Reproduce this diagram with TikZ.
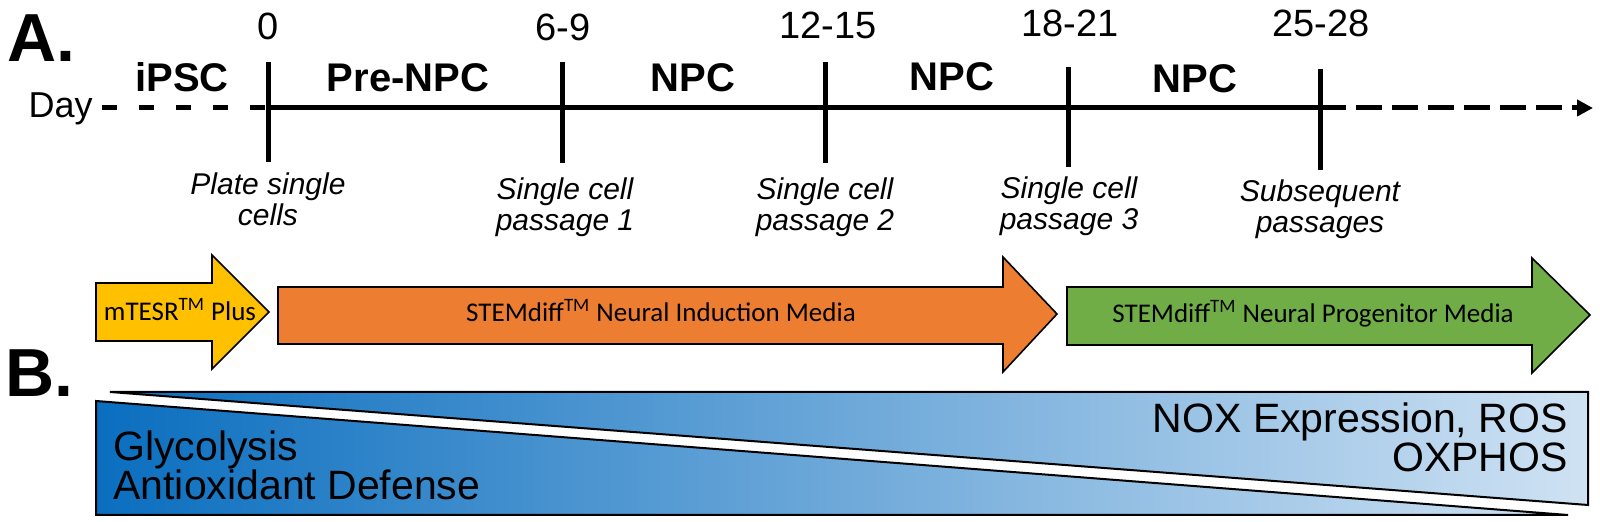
\documentclass[tikz,border=0pt]{standalone}
\usepackage{fontspec}
\setmainfont{Liberation Sans}
\newfontfamily\calfont{Carlito}
\usetikzlibrary{arrows.meta}

\definecolor{mtyellow}{HTML}{FFC000}
\definecolor{ndorange}{HTML}{ED7D31}
\definecolor{npgreen}{HTML}{70AD47}
\definecolor{bdark}{HTML}{0A6EBF}
\definecolor{blight}{HTML}{CFE2F3}

\begin{document}
\begin{tikzpicture}[x=0.5pt,y=-0.5pt,
  >={Triangle[length=8pt,width=8pt]},
  axis/.style={line width=2.5pt},
  tickline/.style={line width=2.5pt},
  daynum/.style={anchor=base,inner sep=0pt,font=\fontsize{19}{19}\selectfont},
  phase/.style={anchor=base,inner sep=0pt,font=\fontsize{20}{20}\selectfont\bfseries},
  event/.style={anchor=north,inner sep=0pt,align=center,font=\fontsize{15}{15.5}\selectfont\itshape},
  media/.style={draw=black,line width=0.8pt,line join=miter},
  medtext/.style={anchor=base,inner sep=0pt,font=\calfont\fontsize{13.5}{13.5}\selectfont},
  panel/.style={anchor=base west,inner sep=0pt,font=\fontsize{34}{34}\selectfont\bfseries},
  trend/.style={inner sep=0pt,font=\fontsize{20.5}{19.5}\selectfont},
  wedge/.style={draw=black,line width=1pt,line join=miter}]
  \useasboundingbox (0,0) rectangle (1600,522);

  % A. timeline
  \node[panel] (panA) at (7,62) {A.};
  \node[anchor=base east,inner sep=0pt,font=\fontsize{18}{18}\selectfont] (day) at (93,118) {Day};
  \coordinate (start) at (102,108);
  \coordinate (d0) at (268,108);
  \coordinate (d1) at (562,108);
  \coordinate (d2) at (825,108);
  \coordinate (d3) at (1068,108);
  \coordinate (d4) at (1320,108);
  \coordinate (tip) at (1593,108);
  \draw[axis,dash pattern=on 7.5pt off 11pt] (start) -- (d0);
  \draw[axis] (d0) -- (d4);
  \draw[axis,->,dash pattern=on 13pt off 5pt] (d4) -- (tip);
  \foreach \n/\x/\a/\b in {0/268/62/162,1/562/62/163,2/825/62/163,3/1068/67/167,4/1320/69/170} {
    \coordinate (top\n) at (\x,\a);
    \coordinate (bot\n) at (\x,\b);
    \draw[tickline] (top\n) -- (bot\n);
  }

  \node[daynum] (n0) at (268,40) {0};
  \node[daynum] (n1) at (563,41) {6-9};
  \node[daynum] (n2) at (828,39) {12-15};
  \node[daynum] (n3) at (1070,37) {18-21};
  \node[daynum] (n4) at (1321,37) {25-28};

  \node[phase] (ipsc) at (182,92) {iPSC};
  \node[phase] (prenpc) at (408,92) {Pre-NPC};
  \node[phase] (npca) at (693,92) {NPC};
  \node[phase] (npcb) at (952,91) {NPC};
  \node[phase] (npcc) at (1195,93) {NPC};

  \node[event] (plate) at (268,172) {Plate single\\cells};
  \node[event] (pass1) at (565,177) {Single cell\\passage 1};
  \node[event] (pass2) at (825,177) {Single cell\\passage 2};
  \node[event] (pass3) at (1069,176) {Single cell\\passage 3};
  \node[event] (subseq) at (1320,179) {Subsequent\\passages};

  % media arrows
  \fill[mtyellow] (96,283) -- (212,283) -- (212,255) -- (269,312) -- (212,369) -- (212,341) -- (96,341) -- cycle;
  \draw[media] (96,283) -- (212,283) -- (212,255) -- (269,312) -- (212,369) -- (212,341) -- (96,341) -- cycle;
  \fill[ndorange] (278,287) -- (1003,287) -- (1003,257) -- (1057,314) -- (1003,372) -- (1003,344) -- (278,344) -- cycle;
  \draw[media] (278,287) -- (1003,287) -- (1003,257) -- (1057,314) -- (1003,372) -- (1003,344) -- (278,344) -- cycle;
  \fill[npgreen] (1067,287) -- (1532,287) -- (1532,258) -- (1590,315) -- (1532,373) -- (1532,345) -- (1067,345) -- cycle;
  \draw[media] (1067,287) -- (1532,287) -- (1532,258) -- (1590,315) -- (1532,373) -- (1532,345) -- (1067,345) -- cycle;
  \node[medtext] (mtesr) at (180,321) {mTESR\textsuperscript{TM} Plus};
  \node[medtext] (induct) at (661,322) {STEMdiff\textsuperscript{TM} Neural Induction Media};
  \node[medtext] (progen) at (1313,323) {STEMdiff\textsuperscript{TM} Neural Progenitor Media};

  % B. metabolic shift
  \node[panel] (panB) at (5,397) {B.};
  \shade[left color=bdark,right color=blight] (110,392) -- (1588,392) -- (1588,505) -- cycle;
  \draw[wedge] (110,392) -- (1588,392) -- (1588,505) -- cycle;
  \shade[left color=bdark,right color=blight] (96,401) -- (96,515) -- (1568,515) -- cycle;
  \draw[wedge] (96,401) -- (96,515) -- (1568,515) -- cycle;
  \node[trend,anchor=north west,align=left] (glyco) at (113,430) {Glycolysis\\Antioxidant Defense};
  \node[trend,anchor=north east,align=right] (nox) at (1568,402) {NOX Expression, ROS\\OXPHOS};
\end{tikzpicture}
\end{document}
